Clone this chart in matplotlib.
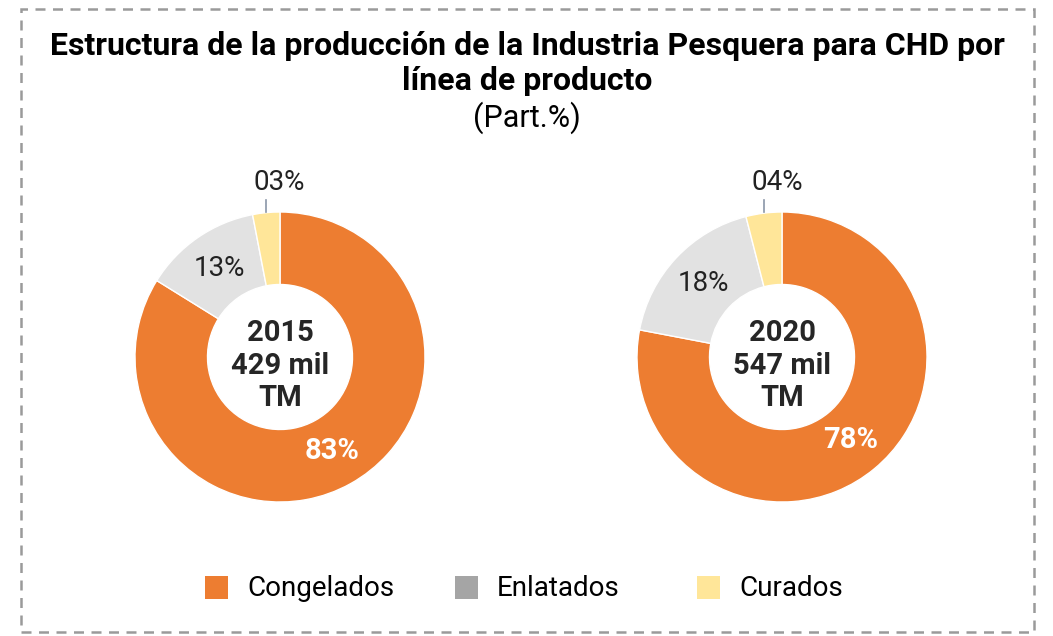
import matplotlib.pyplot as plt
import numpy as np
from matplotlib.patches import Rectangle

plt.rcParams['font.family'] = ['Roboto', 'DejaVu Sans']

categories = ['Congelados', 'Enlatados', 'Curados']
years = ['2015', '2020']
totals = ['429 mil', '547 mil']
shares_2015 = [83, 13, 3]
shares_2020 = [78, 18, 4]
labels_2015 = ['83%', '13%', '03%']
labels_2020 = ['78%', '18%', '04%']

wedge_colors = ['#ED7D31', '#E2E2E2', '#FFE699']
legend_colors = ['#ED7D31', '#A5A5A5', '#FFE699']

W, H = 1053, 636
fig = plt.figure(figsize=(W / 100, H / 100), dpi=100)

# dashed frame
frame = Rectangle((21 / W, 4 / H), 1013 / W, 623 / H, transform=fig.transFigure,
                  fill=False, edgecolor='#9A9A9A', linewidth=1.8, linestyle=(0, (4, 3)))
fig.patches.append(frame)

fig.text(527 / W, 1 - 46 / H, 'Estructura de la producción de la Industria Pesquera para CHD por',
         ha='center', va='center', fontsize=23, fontweight='bold', color='black')
fig.text(527 / W, 1 - 81 / H, 'línea de producto',
         ha='center', va='center', fontsize=23, fontweight='bold', color='black')
fig.text(527 / W, 1 - 118 / H, '(Part.%)',
         ha='center', va='center', fontsize=22, color='black')


def donut(cx, cy, values, labels, year, total):
    half = 160
    ax = fig.add_axes([(cx - half) / W, (H - cy - half) / H, 2 * half / W, 2 * half / H])
    r = 145
    wedges, _ = ax.pie(values, colors=wedge_colors, startangle=90, counterclock=False,
                       radius=1, wedgeprops=dict(width=0.5, edgecolor='white', linewidth=1))
    ax.set_xlim(-half / r, half / r)
    ax.set_ylim(-half / r, half / r)
    ax.set_aspect('equal')
    ax.axis('off')
    for i, w in enumerate(wedges):
        ang = np.deg2rad((w.theta1 + w.theta2) / 2)
        if i == 2:
            x0 = np.cos(ang)
            ax.plot([x0, x0], [1.0, 1.085], color='#8A96A8', lw=1.2)
            ax.text(x0 + 0.09, 1.2, labels[i], ha='center', va='center',
                    fontsize=20, color='#222222')
        elif i == 0:
            ax.text(0.74 * np.cos(ang), 0.74 * np.sin(ang), labels[i], ha='center',
                    va='center', fontsize=21, fontweight='bold', color='white')
        else:
            ax.text(0.74 * np.cos(ang), 0.74 * np.sin(ang), labels[i], ha='center',
                    va='center', fontsize=20, color='#222222')
    ax.text(0, -0.06, year + '\n' + total + '\nTM', ha='center', va='center',
            fontsize=21, fontweight='bold', color='#262626', linespacing=1.2)


donut(280, 357, shares_2015, labels_2015, years[0], totals[0])
donut(782, 357, shares_2020, labels_2020, years[1], totals[1])

# legend entries
legend_x = [205, 455, 697]
for name, col, x in zip(categories, legend_colors, legend_x):
    fig.patches.append(Rectangle((x / W, (H - 599) / H), 23 / W, 23 / H,
                                 transform=fig.transFigure, facecolor=col, edgecolor='none'))
    fig.text((x + 42) / W, 1 - 588 / H, name, ha='left', va='center',
             fontsize=20, color='black')

fig.savefig('out.png', dpi=100)
